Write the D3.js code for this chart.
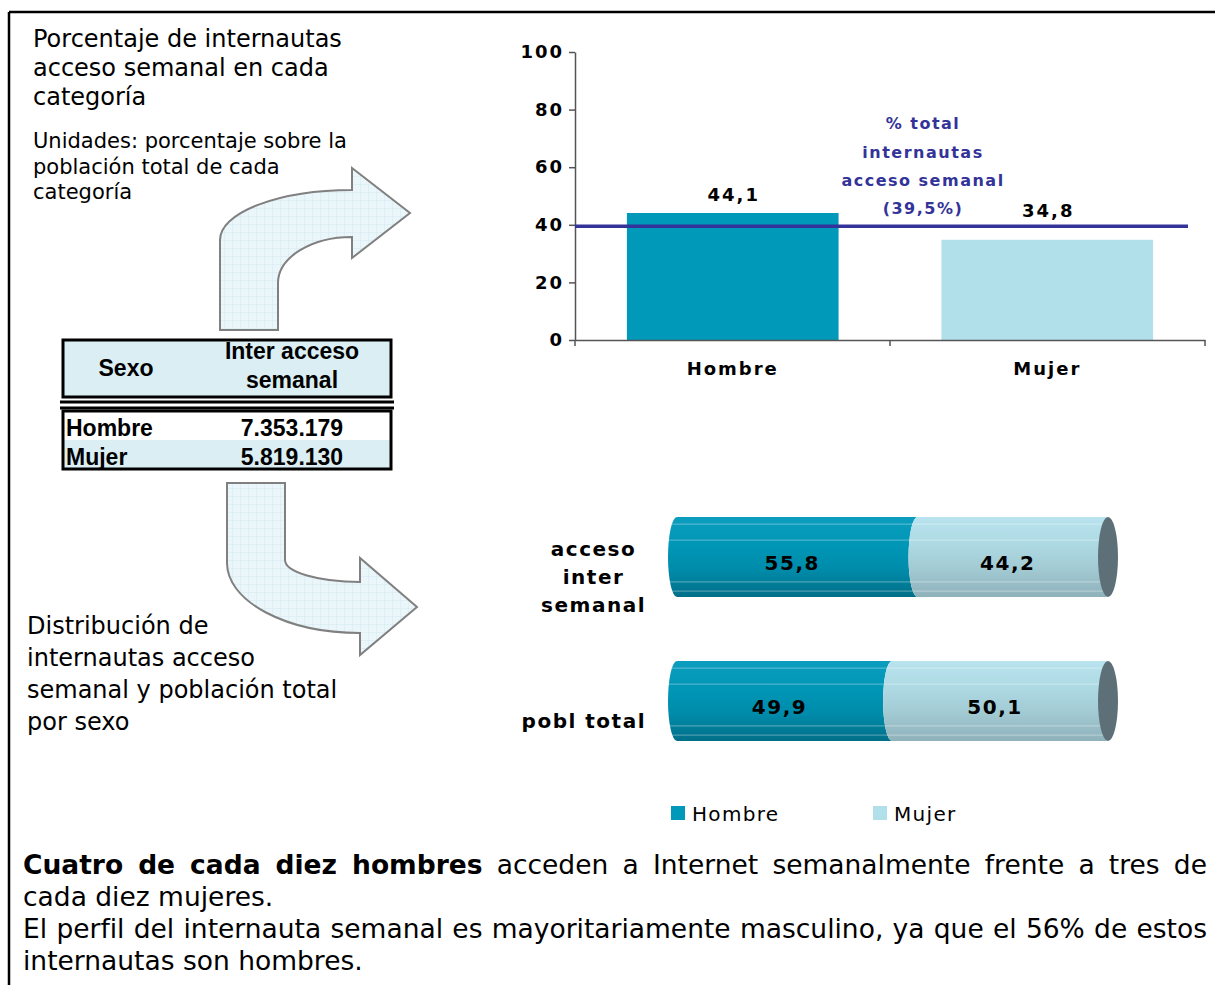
<!doctype html>
<html lang="es">
<head>
<meta charset="utf-8">
<script src="https://d3js.org/d3.v7.min.js"></script>
<style>
  body { margin:0; background:#fff; }
  svg text { font-family: "DejaVu Sans", Verdana, sans-serif; fill:#000; }
  .tabla text { font-family: "Liberation Sans", Arial, sans-serif; font-weight:bold; font-size:23px; }
  .graf text { font-weight:bold; font-size:18px; letter-spacing:2px; }
  .cil text { font-weight:bold; font-size:20px; letter-spacing:1.5px; }
  .eje path, .eje line { stroke:#555; stroke-width:1.5; }
</style>
</head>
<body>
<div id="chart"></div>
<script>
// ---- datos ----
const categorias = ["Hombre", "Mujer"];
const pctAcceso = [44.1, 34.8];
const pctTotal = 39.5;
const yTicks = [0, 20, 40, 60, 80, 100];

const filas = ["acceso inter semanal", "pobl total"];
const filasLineas = [["acceso", "inter", "semanal"], ["pobl total"]];
const distHombre = [55.8, 49.9];
const distMujer = [44.2, 50.1];

const tablaSexo = ["Hombre", "Mujer"];
const tablaInter = ["7.353.179", "5.819.130"];

const titulo1 = ["Porcentaje de internautas", "acceso semanal en cada", "categoría"];
const unidades = ["Unidades: porcentaje sobre la", "población total de cada", "categoría"];
const titulo2 = ["Distribución de", "internautas acceso", "semanal y población total", "por sexo"];

const fmt = v => v.toFixed(1).replace(".", ",");
const colHombre = "#0099b9", colMujer = "#b1dfea", colTotal = "#333399";

const W = 1215, H = 985;
let svg = d3.select("#chart").append("svg")
  .attr("width", W).attr("height", H)
  .style("display", "block");

svg.append("rect").attr("width", W).attr("height", H).attr("fill", "#fff");

let defs = svg.append("defs");

// trama cuadriculada de las flechas
let pat = defs.append("pattern").attr("id", "rejilla")
  .attr("width", 8).attr("height", 8).attr("patternUnits", "userSpaceOnUse");
pat.append("rect").attr("width", 8).attr("height", 8).attr("fill", "#eaf6fa");
pat.append("path").attr("d", "M8,0 L0,0 L0,8").attr("fill", "none")
  .attr("stroke", "#d3eaf1").attr("stroke-width", 1);

function grad(id, stops) {
  let g = defs.append("linearGradient").attr("id", id)
    .attr("x1", 0).attr("y1", 0).attr("x2", 0).attr("y2", 1);
  stops.forEach(s => g.append("stop").attr("offset", s[0]).attr("stop-color", s[1]));
}
grad("gHombre", [[0, "#0b9dbe"], [0.35, "#0096b6"], [0.65, "#008cab"], [1, "#006f88"]]);
grad("gMujer", [[0, "#b9e4ef"], [0.35, "#add9e3"], [0.65, "#a2cad3"], [1, "#8fb1ba"]]);

// marco
svg.append("line").attr("x1", 9).attr("y1", 12).attr("x2", W).attr("y2", 12)
  .attr("stroke", "#000").attr("stroke-width", 2.5);
svg.append("line").attr("x1", 9).attr("y1", 12).attr("x2", 9).attr("y2", H)
  .attr("stroke", "#000").attr("stroke-width", 2.5);

// textos izquierda
function bloque(lineas, x, y0, dy, size) {
  let t = svg.append("text").attr("font-size", size);
  lineas.forEach((l, i) => t.append("tspan").attr("x", x).attr("y", y0 + i * dy).text(l));
  return t;
}
bloque(titulo1, 33, 47, 29, 24);
bloque(unidades, 33, 148, 25.5, 21);
bloque(titulo2, 27, 634, 32, 24);

// flechas
svg.append("path")
  .attr("d", "M220,330 L220,240 A132,50 0 0 1 352,190 L352,168 L410,213 L352,258 L352,237 A74,46 0 0 0 278,283 L278,330 Z")
  .attr("fill", "url(#rejilla)").attr("stroke", "#808080").attr("stroke-width", 2);
svg.append("path")
  .attr("d", "M227,483 L285,483 L285,560 A75,22 0 0 0 360,582 L360,558 L417,607 L360,655 L360,633 A133,70 0 0 1 227,563 Z")
  .attr("fill", "url(#rejilla)").attr("stroke", "#808080").attr("stroke-width", 2);

// tabla
let tab = svg.append("g").attr("class", "tabla");
tab.append("rect").attr("x", 63).attr("y", 340).attr("width", 328).attr("height", 57)
  .attr("fill", "#daeef3").attr("stroke", "#000").attr("stroke-width", 3);
tab.append("text").attr("x", 126).attr("y", 376).attr("text-anchor", "middle").text("Sexo");
tab.append("text").attr("x", 292).attr("y", 359).attr("text-anchor", "middle").text("Inter acceso");
tab.append("text").attr("x", 292).attr("y", 388).attr("text-anchor", "middle").text("semanal");
[402, 408].forEach(yy => tab.append("line").attr("x1", 60).attr("x2", 394)
  .attr("y1", yy).attr("y2", yy).attr("stroke", "#000").attr("stroke-width", 3));
const filaH = 29;
tablaSexo.forEach((s, i) => {
  let yy = 411 + i * filaH;
  tab.append("rect").attr("x", 63).attr("y", yy).attr("width", 328).attr("height", filaH)
    .attr("fill", i % 2 ? "#daeef3" : "#fff");
  tab.append("text").attr("x", 66).attr("y", yy + 25).text(s);
  tab.append("text").attr("x", 292).attr("y", yy + 25).attr("text-anchor", "middle").text(tablaInter[i]);
});
tab.append("rect").attr("x", 63).attr("y", 411).attr("width", 328).attr("height", filaH * tablaSexo.length)
  .attr("fill", "none").attr("stroke", "#000").attr("stroke-width", 3);

// ---- gráfico de barras superior ----
let g1 = svg.append("g").attr("class", "graf");
let x = d3.scaleBand().domain(categorias).range([575, 1205]).paddingInner(0.327).paddingOuter(0.165);
let y = d3.scaleLinear().domain([0, 100]).range([340, 52]);

g1.selectAll(".bar").data(categorias).enter().append("rect")
  .attr("class", "bar")
  .attr("x", d => x(d)).attr("width", x.bandwidth())
  .attr("y", (d, i) => y(pctAcceso[i]))
  .attr("height", (d, i) => y(0) - y(pctAcceso[i]))
  .attr("fill", (d, i) => i === 0 ? colHombre : colMujer);

let yAxis = g1.append("g").attr("class", "eje").attr("transform", "translate(575,0)")
  .call(d3.axisLeft(y).tickValues(yTicks).tickSize(6).tickSizeOuter(0).tickPadding(5));
yAxis.selectAll("text").attr("font-size", 18).attr("font-family", "DejaVu Sans").attr("fill", "#000");

let xAxis = g1.append("g").attr("class", "eje").attr("transform", "translate(0,340)")
  .call(d3.axisBottom(x).tickSize(0).tickSizeOuter(0).tickPadding(22));
xAxis.selectAll("text").attr("font-size", 18).attr("font-family", "DejaVu Sans").attr("fill", "#000");
// marcas entre categorías
let bordes = [x.range()[0]].concat(categorias.map(c => x(c) + x.bandwidth() + x.step() * x.paddingInner() / 2));
bordes[bordes.length - 1] = x.range()[1];
xAxis.selectAll(".borde").data(bordes).enter().append("line")
  .attr("x1", d => d).attr("x2", d => d).attr("y1", 0).attr("y2", 6);

// línea del total
let yRef = y(pctTotal);
g1.append("line").attr("x1", 575).attr("x2", 1188).attr("y1", yRef).attr("y2", yRef)
  .attr("stroke", colTotal).attr("stroke-width", 3.5);

// etiquetas de valor (evitan la línea del total)
g1.selectAll(".val").data(pctAcceso).enter().append("text")
  .attr("class", "val").attr("text-anchor", "middle")
  .attr("x", (d, i) => x(categorias[i]) + x.bandwidth() / 2 + 1)
  .attr("y", d => {
    let b = y(d) - 12;
    if (b > yRef - 4 && b - 13 < yRef + 2) b = yRef - 9;
    return b;
  })
  .text(d => fmt(d));

// anotación
const nota = ["% total", "internautas", "acceso semanal", "(" + fmt(pctTotal) + "%)"];
let tn = g1.append("text").attr("text-anchor", "middle")
  .style("font-size", "16px").style("letter-spacing", "1.5px").attr("fill", colTotal);
nota.forEach((l, i) => tn.append("tspan").attr("x", 923)
  .attr("y", yRef - 12 - (nota.length - 1 - i) * 28.3).attr("fill", colTotal).text(l));

// ---- cilindros apilados ----
let g2 = svg.append("g").attr("class", "cil");
let xs = d3.scaleLinear().domain([0, 100]).range([677, 1108]);
let ys = d3.scaleBand().domain(filas).range([485, 773]).paddingInner(0.444).paddingOuter(0.222);
const rx = 9;

function seg(x0, x1, top, bot) {
  let ry = (bot - top) / 2;
  return `M${x0},${top} L${x1},${top} A${rx},${ry} 0 0 0 ${x1},${bot} L${x0},${bot} A${rx},${ry} 0 0 1 ${x0},${top} Z`;
}
const rayas = [0.09, 0.29, 0.81, 0.925];

filas.forEach((f, i) => {
  let top = ys(f), bot = ys(f) + ys.bandwidth(), mid = (top + bot) / 2;
  let xa = xs(0), xb = xs(distHombre[i]), xc = xs(distHombre[i] + distMujer[i]);
  defs.append("clipPath").attr("id", "clip" + i).append("path").attr("d", seg(xa - 1, xc, top, bot));

  g2.append("path").attr("d", seg(xa, xb, top, bot)).attr("fill", "url(#gHombre)");
  g2.append("path").attr("d", seg(xb, xc, top, bot)).attr("fill", "url(#gMujer)");
  let gr = g2.append("g").attr("clip-path", `url(#clip${i})`);
  rayas.forEach(r => gr.append("line").attr("x1", xa - rx).attr("x2", xc)
    .attr("y1", top + r * (bot - top)).attr("y2", top + r * (bot - top))
    .attr("stroke", "#fff").attr("stroke-opacity", 0.3).attr("stroke-width", 1.2));
  g2.append("ellipse").attr("cx", xc).attr("cy", mid).attr("rx", rx + 1).attr("ry", (bot - top) / 2)
    .attr("fill", "#5e7077");

  g2.append("text").attr("text-anchor", "middle").attr("x", (xa + xb) / 2 - 5).attr("y", mid + 13)
    .text(fmt(distHombre[i]));
  g2.append("text").attr("text-anchor", "middle").attr("x", (xb + xc) / 2 - 5).attr("y", mid + 13)
    .text(fmt(distMujer[i]));

  // etiqueta de categoría
  let lin = filasLineas[i];
  let tl = g2.append("text").attr("text-anchor", "middle");
  let y0 = mid + 20 + 7 - (lin.length - 1) * 28 / 2;
  lin.forEach((l, k) => tl.append("tspan").attr("y", y0 + k * 28).text(l));
  let anchoMax = d3.max(tl.selectAll("tspan").nodes(), n => n.getComputedTextLength());
  tl.selectAll("tspan").attr("x", 646 - anchoMax / 2);
});

// leyenda
let leg = svg.append("g");
categorias.forEach((c, i) => {
  let lx = 671 + i * 202;
  leg.append("rect").attr("x", lx).attr("y", 806).attr("width", 14).attr("height", 14)
    .attr("fill", i === 0 ? colHombre : colMujer);
  leg.append("text").attr("x", lx + 21).attr("y", 821).attr("font-size", 20)
    .style("letter-spacing", "1.3px").text(c);
});

// texto inferior
const parrafo = [
  { partes: [["Cuatro de cada diez hombres", true], [" acceden a Internet semanalmente frente a tres de", false]], just: true },
  { partes: [["cada diez mujeres.", false]], just: false },
  { partes: [["El perfil del internauta semanal es mayoritariamente masculino, ya que el 56% de estos", false]], just: true },
  { partes: [["internautas son hombres.", false]], just: false }
];
parrafo.forEach((ln, i) => {
  let t = svg.append("text").attr("x", 23).attr("y", 874 + i * 32).attr("font-size", 26.5);
  ln.partes.forEach(p => t.append("tspan").attr("font-weight", p[1] ? "bold" : "normal").text(p[0]));
  if (ln.just) {
    let ancho = t.node().getComputedTextLength();
    let esp = ln.partes.map(p => p[0]).join("").split(" ").length - 1;
    t.attr("word-spacing", (1207 - 23 - ancho) / esp);
  }
});
</script>
</body>
</html>
